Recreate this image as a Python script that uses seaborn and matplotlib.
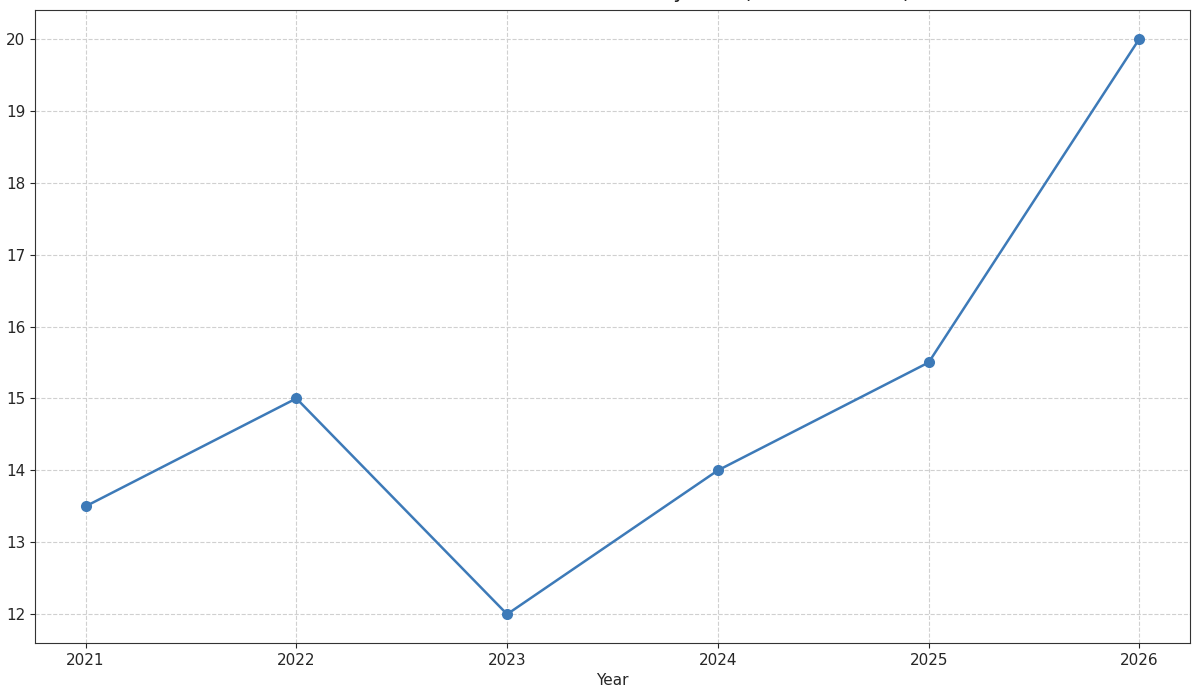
import matplotlib
matplotlib.use("Agg")
import matplotlib.pyplot as plt
import seaborn as sns
import pandas as pd

years = [2021, 2022, 2023, 2024, 2025, 2026]
values = [13.5, 15.0, 12.0, 14.0, 15.5, 20.0]
title = "Annual Revenue Growth Trend by Year (in Billions USD)"

sns.set_style("ticks")
plt.rcParams['font.family'] = ['DejaVu Sans']
df = pd.DataFrame({"Year": years, "Value": values})

fig = plt.figure(figsize=(12, 6.98), dpi=100)
ax = fig.add_axes([35/1200, 55/698, 1155/1200, 633/698])
sns.lineplot(data=df, x="Year", y="Value", marker="o", markersize=8,
             color="#3d7ab8", linewidth=1.8, markeredgewidth=0, ax=ax)
ax.grid(True, linestyle="--", color="#d0d0d0", linewidth=0.8)
ax.set_xticks(years)
ax.set_xticklabels([str(y) for y in years])
ax.set_xlim(2020.76, 2026.24)
ax.set_ylim(11.6, 20.4)
ax.set_ylabel("")
ax.set_xlabel("Year", fontsize=11, labelpad=4)
ax.tick_params(labelsize=11)
for s in ax.spines.values():
    s.set_color("#333333")
fig.text(0.52, 1.003, title, ha="center", va="baseline", fontsize=15)
fig.savefig("out.png", dpi=100)
